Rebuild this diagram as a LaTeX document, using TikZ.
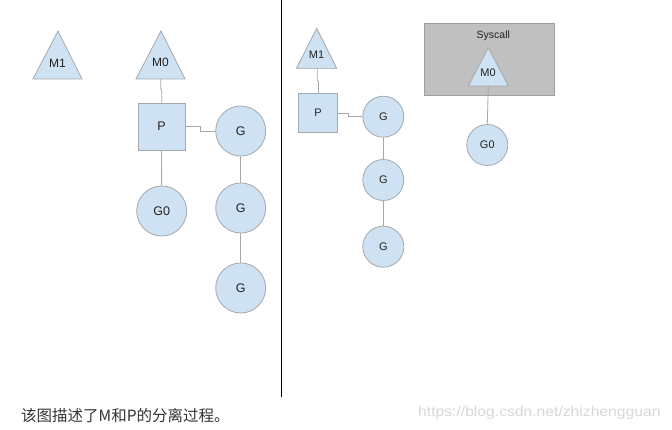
\documentclass[tikz,border=0pt]{standalone}
\usepackage{fontspec}
\setmainfont{Liberation Sans}
\newfontfamily\cjkfont{Noto Sans CJK SC}
\definecolor{shapefill}{HTML}{CFE2F3}
\definecolor{shapeedge}{HTML}{A4A9AD}
\definecolor{linkcol}{HTML}{A8A8A8}
\definecolor{sysfill}{HTML}{C0C0C0}
\definecolor{sysedge}{HTML}{9E9E9E}
\definecolor{txtcol}{HTML}{222222}
\definecolor{capcol}{HTML}{333333}
\definecolor{wmcol}{HTML}{D8D8D8}
\begin{document}
\begin{tikzpicture}[x=1pt,y=-1pt,
  tri/.style={fill=shapefill,draw=shapeedge,line width=0.8pt,line join=miter},
  lbl/.style={inner sep=0pt,text=txtcol,font=\fontsize{12}{14}\selectfont},
  slbl/.style={inner sep=0pt,text=txtcol,font=\fontsize{11}{13}\selectfont},
  pbox/.style={rectangle,fill=shapefill,draw=shapeedge,line width=0.8pt,inner sep=0pt,text=txtcol,font=\fontsize{12.5}{14}\selectfont},
  gbig/.style={circle,fill=shapefill,draw=shapeedge,line width=0.8pt,inner sep=0pt,minimum size=50pt,text=txtcol,font=\fontsize{12.5}{14}\selectfont},
  gsmall/.style={circle,fill=shapefill,draw=shapeedge,line width=0.8pt,inner sep=0pt,minimum size=41pt,text=txtcol,font=\fontsize{11}{13}\selectfont},
  link/.style={draw=linkcol,line width=0.8pt},
  sysbox/.style={rectangle,fill=sysfill,draw=sysedge,line width=0.8pt,inner sep=0pt}]
\useasboundingbox (0,0) rectangle (672,430);
\fill[white] (0,0) rectangle (672,430);

% divider
\coordinate (divtop) at (281,0);
\coordinate (divbot) at (281,397);
\draw[black,line width=0.9pt] (divtop) -- (divbot);

% ---------- left panel ----------
\path[tri] (58,31) -- (82,79) -- (33,79) -- cycle;
\node[lbl] (m1L) at (57.5,63) {M1};

\path[tri] (161,31) -- (185,79) -- (136,79) -- cycle;
\node[lbl] (m0L) at (160.5,62) {M0};
\coordinate (m0Lb) at (160.7,79);

\node[pbox,minimum width=47pt,minimum height=47pt] (pL) at (161.5,126.5) {P};
\node[gbig] (g0L) at (161.7,211) {G0};
\node[gbig] (gaL) at (240.7,131) {G};
\node[gbig] (gbL) at (240.7,208) {G};
\node[gbig] (gcL) at (240.7,288) {G};

\draw[link] (m0Lb) -- ++(0,10) -- ++(1,1.7) |- (pL.north);
\draw[link] (pL.east |- 0,126.7) -- (200,126.7) |- (gaL.west);
\draw[link] (pL) -- (g0L);
\draw[link] (gaL) -- (gbL);
\draw[link] (gbL) -- (gcL);

% ---------- right panel ----------
\path[tri] (316.7,28.3) -- (336.7,68.3) -- (296.5,68.3) -- cycle;
\node[slbl] (m1R) at (316.5,55) {M1};
\coordinate (m1Rb) at (317.3,68.3);

\node[pbox,minimum width=39.5pt,minimum height=39pt,font=\fontsize{11}{13}\selectfont] (pR) at (318,112.8) {P};
\node[gsmall] (gaR) at (383.3,116.7) {G};
\node[gsmall] (gbR) at (383.3,180) {G};
\node[gsmall] (gcR) at (383.3,246.7) {G};

\draw[link] (m1Rb) -- (317.3,80) -- (318.5,81.7) -- (318.5,93.3);
\draw[link] (pR.east |- 0,113.3) -- (348.5,113.3) |- (gaR.west);
\draw[link] (gaR) -- (gbR);
\draw[link] (gbR) -- (gcR);

\node[sysbox,minimum width=130.3pt,minimum height=72.4pt] (sys) at (489.2,59.5) {};
\node[slbl,font=\fontsize{10.5}{12}\selectfont] (sysL) at (493.3,36) {Syscall};
\path[tri] (488.3,47.7) -- (508.3,86) -- (468.3,86) -- cycle;
\node[slbl] (m0R) at (488,73) {M0};
\coordinate (m0Rb) at (488.3,86);
\node[gsmall] (g0R) at (487.3,145) {G0};
\draw[link] (m0Rb) -- (g0R.north);

% ---------- texts ----------
\node[anchor=west,inner sep=0pt,text=capcol,font=\cjkfont\fontsize{15.5}{18}\selectfont] (cap) at (21,416) {该图描述了M和P的分离过程。};
\node[anchor=west,inner sep=0pt,text=wmcol,font=\fontsize{14}{16}\selectfont] (wm) at (418,413) {\scalebox{1.12}[1]{https://blog.csdn.net/zhizhengguan}};
\end{tikzpicture}
\end{document}
